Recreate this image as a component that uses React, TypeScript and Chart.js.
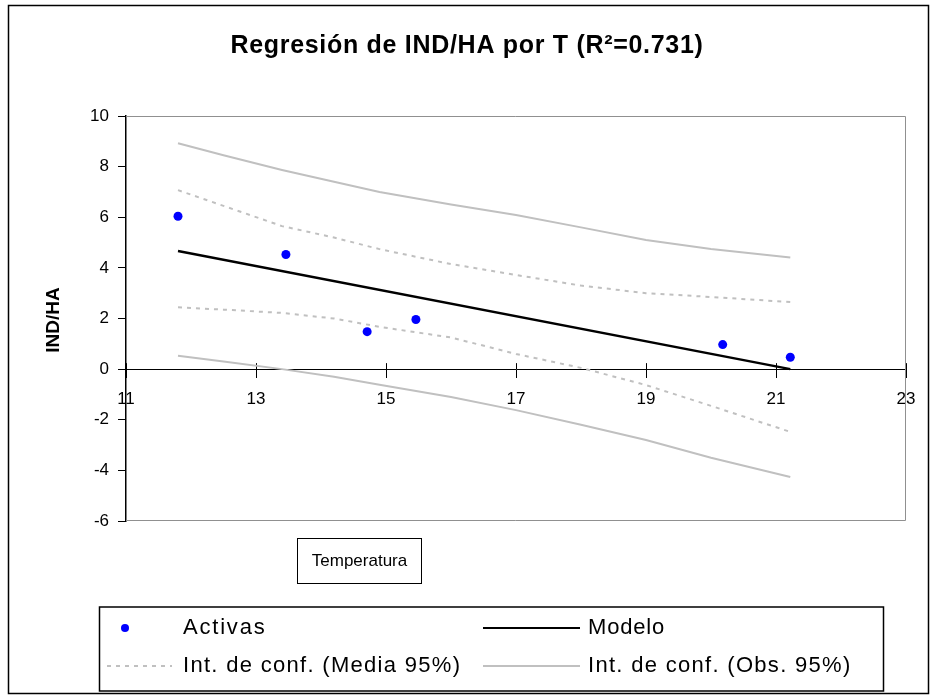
import React, { useEffect, useRef } from "react";
import { Chart, registerables } from "chart.js";
Chart.register(...registerables);

const TITLE = "Regresión de IND/HA por T (R²=0.731)";
const Y_TITLE = "IND/HA";
const X_TITLE = "Temperatura";
const LEGEND_LABELS = ["Activas", "Modelo", "Int. de conf. (Media 95%)", "Int. de conf. (Obs. 95%)"];

const activasX = [11.8, 13.46, 14.71, 15.46, 20.18, 21.22];
const activasY = [6.04, 4.53, 1.48, 1.96, 0.97, 0.47];

const modeloX = [11.8, 21.22];
const modeloY = [4.67, 0.0];

const ciX = [11.8, 12.5, 13.4, 14.2, 14.9, 16.0, 17.0, 18.0, 19.0, 20.0, 21.22];
const mediaUpper = [7.07, 6.45, 5.65, 5.2, 4.74, 4.15, 3.72, 3.3, 3.0, 2.85, 2.65];
const mediaLower = [2.44, 2.35, 2.22, 2.0, 1.67, 1.25, 0.6, 0.05, -0.63, -1.45, -2.48];
const obsUpper = [8.92, 8.45, 7.87, 7.4, 7.0, 6.5, 6.09, 5.6, 5.1, 4.75, 4.41];
const obsLower = [0.53, 0.3, 0.0, -0.3, -0.62, -1.1, -1.62, -2.2, -2.8, -3.5, -4.26];

const xTicks = [11, 13, 15, 17, 19, 21, 23];
const yTicks = [-6, -4, -2, 0, 2, 4, 6, 8, 10];

const FONT = "'Liberation Sans', Arial, sans-serif";
const CI_GRAY = "#c0c0c0";

const pts = (xs: number[], ys: number[]) => xs.map((x, i) => ({ x, y: ys[i] }));

function spacedText(ctx: CanvasRenderingContext2D, text: string, x: number, y: number, spacing: number) {
  (ctx as any).letterSpacing = spacing + "px";
  ctx.fillText(text, x, y);
  (ctx as any).letterSpacing = "0px";
}

const decor = {
  id: "decor",
  beforeDraw(chart: any) {
    const ctx = chart.ctx as CanvasRenderingContext2D;
    ctx.save();
    ctx.fillStyle = "#ffffff";
    ctx.fillRect(0, 0, chart.width, chart.height);
    ctx.strokeStyle = "#000000";
    ctx.lineWidth = 1.5;
    ctx.strokeRect(8.5, 5.5, 920, 688);
    ctx.restore();
  },
  beforeDatasetsDraw(chart: any) {
    const { ctx, chartArea: a } = chart;
    ctx.save();
    ctx.strokeStyle = "#909090";
    ctx.lineWidth = 1;
    ctx.beginPath();
    ctx.moveTo(a.left, a.top + 0.5);
    ctx.lineTo(a.right - 0.5, a.top + 0.5);
    ctx.lineTo(a.right - 0.5, a.bottom - 0.5);
    ctx.lineTo(a.left, a.bottom - 0.5);
    ctx.stroke();
    // upward halves of the crossing x ticks
    const xs = chart.scales.x;
    const y0 = chart.scales.y.getPixelForValue(0);
    ctx.strokeStyle = "#000000";
    ctx.beginPath();
    xTicks.forEach((v) => {
      const px = Math.round(xs.getPixelForValue(v)) + 0.5;
      ctx.moveTo(px, y0 - 6);
      ctx.lineTo(px, y0);
    });
    ctx.stroke();
    ctx.restore();
  },
  afterDraw(chart: any) {
    const ctx = chart.ctx as CanvasRenderingContext2D;
    ctx.save();
    ctx.fillStyle = "#000000";
    ctx.textBaseline = "middle";

    // title
    ctx.font = `bold 25px ${FONT}`;
    ctx.textAlign = "center";
    spacedText(ctx, TITLE, 467, 46, 0.7);

    // y title
    ctx.save();
    ctx.translate(54, 320);
    ctx.rotate(-Math.PI / 2);
    ctx.font = `bold 19px ${FONT}`;
    ctx.textAlign = "center";
    ctx.fillText(Y_TITLE, 0, 0);
    ctx.restore();

    // x title box
    ctx.strokeStyle = "#000000";
    ctx.lineWidth = 1;
    ctx.strokeRect(297.5, 538.5, 124, 45);
    ctx.font = `17px ${FONT}`;
    ctx.textAlign = "center";
    ctx.fillText(X_TITLE, 359.5, 561);

    // legend box
    ctx.lineWidth = 1.5;
    ctx.strokeRect(99.5, 607, 784, 84);
    ctx.textAlign = "left";
    ctx.font = `22px ${FONT}`;
    const r1 = 628;
    const r2 = 666;
    // Activas marker
    ctx.fillStyle = "#0000ff";
    ctx.beginPath();
    ctx.arc(125, r1, 4, 0, Math.PI * 2);
    ctx.fill();
    ctx.fillStyle = "#000000";
    spacedText(ctx, LEGEND_LABELS[0], 183, r1, 1.8);
    // Modelo
    ctx.strokeStyle = "#000000";
    ctx.lineWidth = 2;
    ctx.beginPath();
    ctx.moveTo(483, r1);
    ctx.lineTo(580, r1);
    ctx.stroke();
    spacedText(ctx, LEGEND_LABELS[1], 588, r1, 0.8);
    // Media CI
    ctx.strokeStyle = CI_GRAY;
    ctx.setLineDash([4, 5]);
    ctx.beginPath();
    ctx.moveTo(107, r2);
    ctx.lineTo(172, r2);
    ctx.stroke();
    ctx.setLineDash([]);
    spacedText(ctx, LEGEND_LABELS[2], 183, r2, 1.3);
    // Obs CI
    ctx.beginPath();
    ctx.moveTo(483, r2);
    ctx.lineTo(580, r2);
    ctx.stroke();
    spacedText(ctx, LEGEND_LABELS[3], 588, r2, 1.3);
    ctx.restore();
  },
};

export default function App() {
  const ref = useRef<HTMLCanvasElement | null>(null);
  useEffect(() => {
    document.body.style.margin = "0";
    const canvas = ref.current;
    if (!canvas) return;
    const lineDs = (label: string, xs: number[], ys: number[], color: string, width: number, dash: number[]) => ({
      label,
      data: pts(xs, ys),
      showLine: true,
      borderColor: color,
      backgroundColor: color,
      borderWidth: width,
      borderDash: dash,
      pointRadius: 0,
      pointHoverRadius: 0,
      fill: false,
      tension: 0,
    });
    const chart = new Chart(canvas, {
      type: "scatter",
      data: {
        datasets: [
          {
            label: LEGEND_LABELS[0],
            data: pts(activasX, activasY),
            backgroundColor: "#0000ff",
            borderColor: "#0000ff",
            pointRadius: 4.5,
            borderWidth: 0,
            showLine: false,
          } as any,
          lineDs(LEGEND_LABELS[1], modeloX, modeloY, "#000000", 2.5, []),
          lineDs(LEGEND_LABELS[2], ciX, mediaUpper, CI_GRAY, 2, [4, 5]),
          lineDs(LEGEND_LABELS[2], ciX, mediaLower, CI_GRAY, 2, [4, 5]),
          lineDs(LEGEND_LABELS[3], ciX, obsUpper, CI_GRAY, 2, []),
          lineDs(LEGEND_LABELS[3], ciX, obsLower, CI_GRAY, 2, []),
        ],
      },
      options: {
        animation: false,
        responsive: false,
        maintainAspectRatio: false,
        layout: { padding: { left: 0, top: 116, right: 28, bottom: 175 } },
        plugins: {
          legend: { display: false },
          title: { display: false },
          tooltip: { enabled: false },
        },
        scales: {
          x: {
            type: "linear",
            min: 11,
            max: 23,
            position: { y: 0 } as any,
            afterBuildTicks: (s: any) => {
              s.ticks = xTicks.map((v) => ({ value: v }));
            },
            ticks: {
              color: "#000000",
              font: { family: FONT, size: 17 },
              padding: 12,
              maxRotation: 0,
              autoSkip: false,
            },
            grid: { drawOnChartArea: false, drawTicks: true, tickLength: 8, color: "#000000", lineWidth: 1 },
            border: { color: "#000000", width: 1 },
          },
          y: {
            type: "linear",
            min: -6,
            max: 10,
            afterBuildTicks: (s: any) => {
              s.ticks = yTicks.map((v) => ({ value: v }));
            },
            afterFit: (s: any) => {
              s.width = 126;
            },
            ticks: {
              color: "#000000",
              font: { family: FONT, size: 17 },
              padding: 9,
            },
            grid: { drawOnChartArea: false, drawTicks: true, tickLength: 8, color: "#000000", lineWidth: 1 },
            border: { color: "#000000", width: 1.5 },
          },
        },
      },
      plugins: [decor],
    });
    return () => chart.destroy();
  }, []);
  return <canvas ref={ref} width={934} height={696} style={{ display: "block", width: 934, height: 696 }} />;
}
